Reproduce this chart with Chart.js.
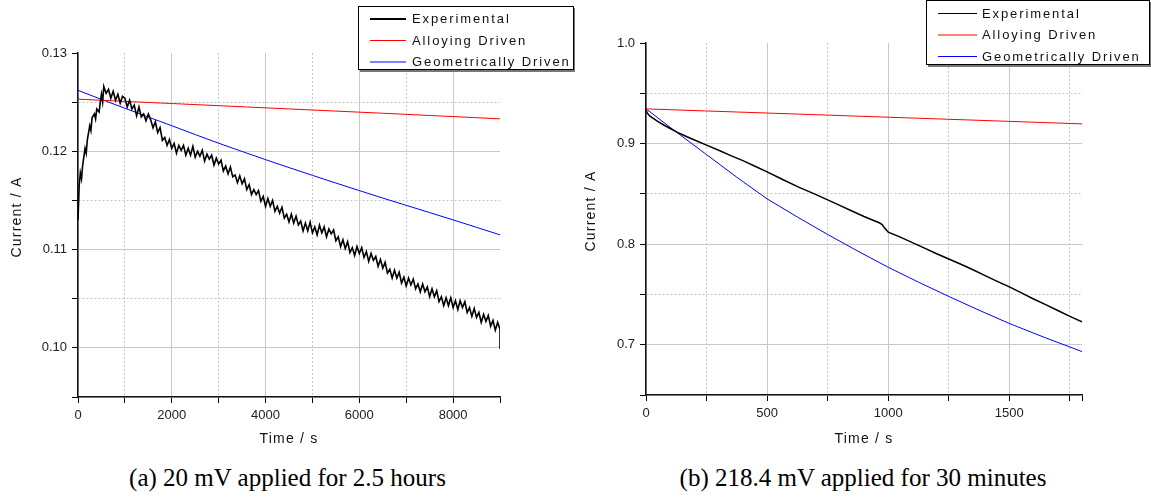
<!DOCTYPE html>
<html>
<head>
<meta charset="utf-8">
<script src="https://cdn.jsdelivr.net/npm/chart.js@4.4.1/dist/chart.umd.min.js"></script>
<style>
  html, body { margin: 0; padding: 0; background: #fff; }
  #wrap { position: relative; width: 1151px; height: 497px; overflow: hidden; }
  canvas { position: absolute; top: 0; }
  .cap { position: absolute; top: 462px; height: 32px; line-height: 32px; text-align: center;
         font-family: "Liberation Serif", "DejaVu Serif", serif; font-size: 25px; color: #000; }
</style>
</head>
<body>
<div id="wrap">
  <canvas id="chartA" width="575" height="455" style="left:0"></canvas>
  <canvas id="chartB" width="576" height="455" style="left:575px"></canvas>
  <div class="cap" style="left:0;width:575px">(a) 20 mV applied for 2.5 hours</div>
  <div class="cap" style="left:575px;width:576px">(b) 218.4 mV applied for 30 minutes</div>
</div>
<script>
// ---- (a) 20 mV, 2.5 h ----
const aExpTime = [0, 25, 50, 75, 100, 150, 175, 200, 250, 275, 300, 350, 375, 400, 450, 475, 500, 525, 550, 600, 650, 700, 750, 800, 850, 900, 950,
  1000, 1050, 1100, 1150, 1200, 1250, 1300, 1350, 1400, 1450, 1500, 1550, 1600, 1650, 1700, 1750, 1800, 1850, 1900, 1950,
  2000, 2050, 2100, 2150, 2200, 2250, 2300, 2350, 2400, 2450, 2500, 2550, 2600, 2650, 2700, 2750, 2800, 2850, 2900, 2950,
  3000, 3050, 3100, 3150, 3200, 3250, 3300, 3350, 3400, 3450, 3500, 3550, 3600, 3650, 3700, 3750, 3800, 3850, 3900, 3950,
  4000, 4050, 4100, 4150, 4200, 4250, 4300, 4350, 4400, 4450, 4500, 4550, 4600, 4650, 4700, 4750, 4800, 4850, 4900, 4950,
  5000, 5050, 5100, 5150, 5200, 5250, 5300, 5350, 5400, 5450, 5500, 5550, 5600, 5650, 5700, 5750, 5800, 5850, 5900, 5950,
  6000, 6050, 6100, 6150, 6200, 6250, 6300, 6350, 6400, 6450, 6500, 6550, 6600, 6650, 6700, 6750, 6800, 6850, 6900, 6950,
  7000, 7050, 7100, 7150, 7200, 7250, 7300, 7350, 7400, 7450, 7500, 7550, 7600, 7650, 7700, 7750, 7800, 7850, 7900, 7950,
  8000, 8050, 8100, 8150, 8200, 8250, 8300, 8350, 8400, 8450, 8500, 8550, 8600, 8650, 8700, 8750, 8800, 8850, 8900, 8950,
  9000, 9000];
const aExpCurrent = [0.1130, 0.1165, 0.1178, 0.1172, 0.1186, 0.1203, 0.1198, 0.1212, 0.1226, 0.1221, 0.1234, 0.1238, 0.1233, 0.1243, 0.1240, 0.1250, 0.1258, 0.1250, 0.1266, 0.1259, 0.1263, 0.1254, 0.1261, 0.1252, 0.1258, 0.1249, 0.1256,
  0.1254, 0.1245, 0.1252, 0.1243, 0.1247, 0.1236, 0.1245, 0.1235, 0.1238, 0.1231, 0.1238, 0.1232, 0.1224, 0.1230, 0.1219, 0.1224, 0.1211, 0.1214, 0.1206, 0.1212,
  0.1203, 0.1208, 0.1198, 0.1206, 0.1201, 0.1206, 0.1196, 0.1203, 0.1196, 0.1205, 0.1194, 0.1200, 0.1195, 0.1201, 0.1190, 0.1197, 0.1192, 0.1196, 0.1186, 0.1193,
  0.1187, 0.1191, 0.1180, 0.1185, 0.1177, 0.1184, 0.1174, 0.1176, 0.1168, 0.1175, 0.1167, 0.1172, 0.1161, 0.1166, 0.1156, 0.1161, 0.1156, 0.1160, 0.1149, 0.1154,
  0.1144, 0.1152, 0.1144, 0.1150, 0.1139, 0.1144, 0.1137, 0.1143, 0.1132, 0.1136, 0.1128, 0.1136, 0.1127, 0.1134, 0.1125, 0.1129, 0.1119, 0.1127, 0.1119, 0.1128,
  0.1117, 0.1123, 0.1115, 0.1125, 0.1117, 0.1123, 0.1113, 0.1121, 0.1116, 0.1120, 0.1109, 0.1113, 0.1103, 0.1110, 0.1101, 0.1108, 0.1097, 0.1102, 0.1094, 0.1103,
  0.1096, 0.1102, 0.1092, 0.1098, 0.1088, 0.1096, 0.1089, 0.1093, 0.1083, 0.1090, 0.1081, 0.1087, 0.1076, 0.1080, 0.1071, 0.1079, 0.1071, 0.1077, 0.1066, 0.1072,
  0.1063, 0.1071, 0.1064, 0.1070, 0.1060, 0.1065, 0.1057, 0.1065, 0.1057, 0.1062, 0.1052, 0.1060, 0.1052, 0.1058, 0.1047, 0.1052, 0.1043, 0.1051, 0.1043, 0.1051,
  0.1041, 0.1048, 0.1039, 0.1048, 0.1041, 0.1047, 0.1036, 0.1041, 0.1032, 0.1040, 0.1031, 0.1036, 0.1026, 0.1034, 0.1027, 0.1033, 0.1022, 0.1028, 0.1018, 0.1026,
  0.1019, 0.0999];
const aModelTime = [0, 500, 1000, 1500, 2000, 2500, 3000, 3500, 4000, 4500, 5000, 5500, 6000, 6500, 7000, 7500, 8000, 8500, 9000];
const aAlloying = [0.12530, 0.12519, 0.12508, 0.12497, 0.12486, 0.12475, 0.12464, 0.12453, 0.12442, 0.12431, 0.12420, 0.12409, 0.12398, 0.12387, 0.12376, 0.12364, 0.12353, 0.12342, 0.12330];
const aGeometric = [0.12620, 0.12528, 0.12438, 0.12348, 0.12260, 0.12170, 0.12082, 0.11998, 0.11915, 0.11834, 0.11755, 0.11677, 0.11600, 0.11524, 0.11450, 0.11376, 0.11302, 0.11226, 0.11150];
const aXTicks = [0, 1000, 2000, 3000, 4000, 5000, 6000, 7000, 8000, 9000];
const aYTicks = [0.095, 0.100, 0.105, 0.110, 0.115, 0.120, 0.125, 0.130];

// ---- (b) 218.4 mV, 30 min ----
const bExpTime = [0, 5, 15, 30, 50, 75, 100, 130, 160, 200, 250, 300, 350, 400, 450, 500, 560, 630, 700, 750, 800, 850, 900, 950,
  965, 975, 985, 1000, 1050, 1100, 1150, 1200, 1250, 1300, 1350, 1400, 1450, 1500, 1550, 1600, 1650, 1700, 1750, 1800];
const bExpCurrent = [0.9330, 0.9305, 0.9275, 0.9250, 0.9218, 0.9182, 0.9150, 0.9112, 0.9078, 0.9035, 0.8985, 0.8933, 0.8880, 0.8830, 0.8775, 0.8718, 0.8648, 0.8567, 0.8495, 0.8440, 0.8385, 0.8330, 0.8275, 0.8225,
  0.8210, 0.8195, 0.8160, 0.8120, 0.8070, 0.8015, 0.7960, 0.7905, 0.7852, 0.7800, 0.7745, 0.7687, 0.7630, 0.7575, 0.7515, 0.7455, 0.7398, 0.7340, 0.7282, 0.7228];
const bModelTime = [0, 125, 250, 375, 500, 625, 750, 875, 1000, 1125, 1250, 1375, 1500, 1650, 1800];
const bAlloying = [0.93450, 0.93347, 0.93243, 0.93140, 0.93036, 0.92933, 0.92829, 0.92726, 0.92622, 0.92519, 0.92415, 0.92312, 0.92208, 0.92084, 0.91960];
const bGeometric = [0.93450, 0.91150, 0.88900, 0.86650, 0.84500, 0.82700, 0.80960, 0.79300, 0.77700, 0.76220, 0.74800, 0.73430, 0.72110, 0.70680, 0.69320];
const bXTicks = [0, 250, 500, 750, 1000, 1250, 1500, 1750, 1800];
const bYTicks = [0.65, 0.70, 0.75, 0.80, 0.85, 0.90, 0.95, 1.00];

const seriesLabels = ['Experimental', 'Alloying Driven', 'Geometrically Driven'];
const FONT = '"Liberation Sans", Arial, sans-serif';

Chart.defaults.font.family = FONT;
Chart.defaults.font.size = 13;
Chart.defaults.color = '#222';

const zip = (xs, ys) => xs.map((x, i) => ({ x, y: ys[i] }));

// Legend box + axis titles with letter spacing
const decor = {
  id: 'decor',
  afterDraw(chart, args, o) {
    const ctx = chart.ctx, a = chart.chartArea;
    ctx.save();
    ctx.fillStyle = '#111';
    ctx.font = '14px ' + FONT;
    ctx.letterSpacing = '1.2px';
    ctx.textAlign = 'center';
    ctx.textBaseline = 'middle';
    ctx.fillText(o.xTitle, (a.left + a.right) / 2, o.xTitleY);
    ctx.translate(o.yTitleX, (a.top + a.bottom) / 2 - 8);
    ctx.rotate(-Math.PI / 2);
    ctx.fillText(o.yTitle, 0, 0);
    ctx.restore();

    const L = o.legend;
    ctx.save();
    ctx.fillStyle = '#777';
    ctx.fillRect(L.x + 2, L.y + 2, L.w, L.h);
    ctx.fillStyle = '#fff';
    ctx.fillRect(L.x, L.y, L.w, L.h);
    ctx.strokeStyle = '#000';
    ctx.lineWidth = 1;
    ctx.strokeRect(L.x + 0.5, L.y + 0.5, L.w - 1, L.h - 1);
    ctx.font = '13px ' + FONT;
    ctx.letterSpacing = '1.9px';
    ctx.textAlign = 'left';
    ctx.textBaseline = 'middle';
    chart.data.datasets.forEach((ds, i) => {
      const y = L.y + L.row0 + i * L.rowH;
      ctx.beginPath();
      ctx.strokeStyle = ds.borderColor;
      ctx.lineWidth = ds.legendWidth || 1;
      ctx.moveTo(L.x + L.line0, y + 0.5);
      ctx.lineTo(L.x + L.line1, y + 0.5);
      ctx.stroke();
      ctx.fillStyle = '#111';
      ctx.fillText(ds.label, L.x + L.textX, y + 1);
    });
    ctx.restore();
  }
};

function makeChart(id, cfg) {
  const isMinorX = cfg.isMinorX, isMinorY = cfg.isMinorY;
  const gridColor = (c, maxV) => (c.tick && Math.abs(c.tick.value - maxV) < 1e-9 ? 'rgba(0,0,0,0)' : '#c8c8c8');
  return new Chart(document.getElementById(id), {
    type: 'line',
    data: {
      datasets: [
        { label: seriesLabels[0], data: zip(cfg.expTime, cfg.expCurrent), borderColor: '#000', borderWidth: cfg.expWidth, legendWidth: cfg.expLegendWidth },
        { label: seriesLabels[1], data: zip(cfg.modelTime, cfg.alloying), borderColor: '#ff0000', borderWidth: 1 },
        { label: seriesLabels[2], data: zip(cfg.modelTime, cfg.geometric), borderColor: '#0000ff', borderWidth: 1 }
      ]
    },
    options: {
      responsive: false,
      animation: false,
      events: [],
      layout: { padding: cfg.padding },
      elements: { point: { radius: 0 }, line: { tension: 0 } },
      plugins: { legend: { display: false }, tooltip: { enabled: false }, decor: cfg.decor },
      scales: {
        x: {
          type: 'linear', min: cfg.xMin, max: cfg.xMax,
          afterBuildTicks: (s) => { s.ticks = cfg.xTicks.map(v => ({ value: v })); },
          afterFit: (s) => { s.height = cfg.xAxisH; },
          ticks: { autoSkip: false, maxRotation: 0, padding: 5, color: '#222',
                   callback: (v) => (isMinorX(v) ? '' : String(v)) },
          grid: { color: (c) => gridColor(c, cfg.xMax), tickColor: '#000', tickLength: 6, lineWidth: 1 },
          border: { color: '#111', width: 1.5, dash: (c) => (c.tick && isMinorX(c.tick.value) ? [2, 2] : []) }
        },
        y: {
          type: 'linear', min: cfg.yMin, max: cfg.yMax,
          afterBuildTicks: (s) => { s.ticks = cfg.yTicks.map(v => ({ value: v })); },
          afterFit: (s) => { s.width = cfg.yAxisW; },
          ticks: { autoSkip: false, padding: 5, color: '#222',
                   callback: (v) => (isMinorY(v) ? '' : v.toFixed(cfg.yDigits)) },
          grid: { color: (c) => gridColor(c, cfg.yMax), tickColor: '#000', tickLength: 6, lineWidth: 1 },
          border: { color: '#111', width: 1.5, dash: (c) => (c.tick && isMinorY(c.tick.value) ? [2, 2] : []) }
        }
      }
    },
    plugins: [decor]
  });
}

makeChart('chartA', {
  expTime: aExpTime, expCurrent: aExpCurrent, modelTime: aModelTime, alloying: aAlloying, geometric: aGeometric,
  expWidth: 1.6, expLegendWidth: 2,
  xMin: 0, xMax: 9000, yMin: 0.095, yMax: 0.13, xTicks: aXTicks, yTicks: aYTicks, yDigits: 2,
  isMinorX: (v) => v % 2000 !== 0,
  isMinorY: (v) => Math.round(v * 1000) % 10 !== 0,
  padding: { left: 0, right: 75, top: 53, bottom: 0 }, xAxisH: 58, yAxisW: 78,
  decor: { xTitle: 'Time / s', xTitleY: 439, yTitle: 'Current / A', yTitleX: 17,
           legend: { x: 358, y: 6, w: 216, h: 64, row0: 12.5, rowH: 21.5, line0: 12, line1: 48, textX: 54 } }
});

makeChart('chartB', {
  expTime: bExpTime, expCurrent: bExpCurrent, modelTime: bModelTime, alloying: bAlloying, geometric: bGeometric,
  expWidth: 1.5, expLegendWidth: 1,
  xMin: 0, xMax: 1800, yMin: 0.65, yMax: 1.0, xTicks: bXTicks, yTicks: bYTicks, yDigits: 1,
  isMinorX: (v) => v % 500 !== 0,
  isMinorY: (v) => Math.round(v * 100) % 10 !== 0,
  padding: { left: 0, right: 69, top: 43, bottom: 0 }, xAxisH: 60, yAxisW: 71,
  decor: { xTitle: 'Time / s', xTitleY: 439, yTitle: 'Current / A', yTitleX: 16,
           legend: { x: 351, y: 0, w: 224, h: 65, row0: 13, rowH: 21.5, line0: 12, line1: 51, textX: 56 } }
});
</script>
</body>
</html>
